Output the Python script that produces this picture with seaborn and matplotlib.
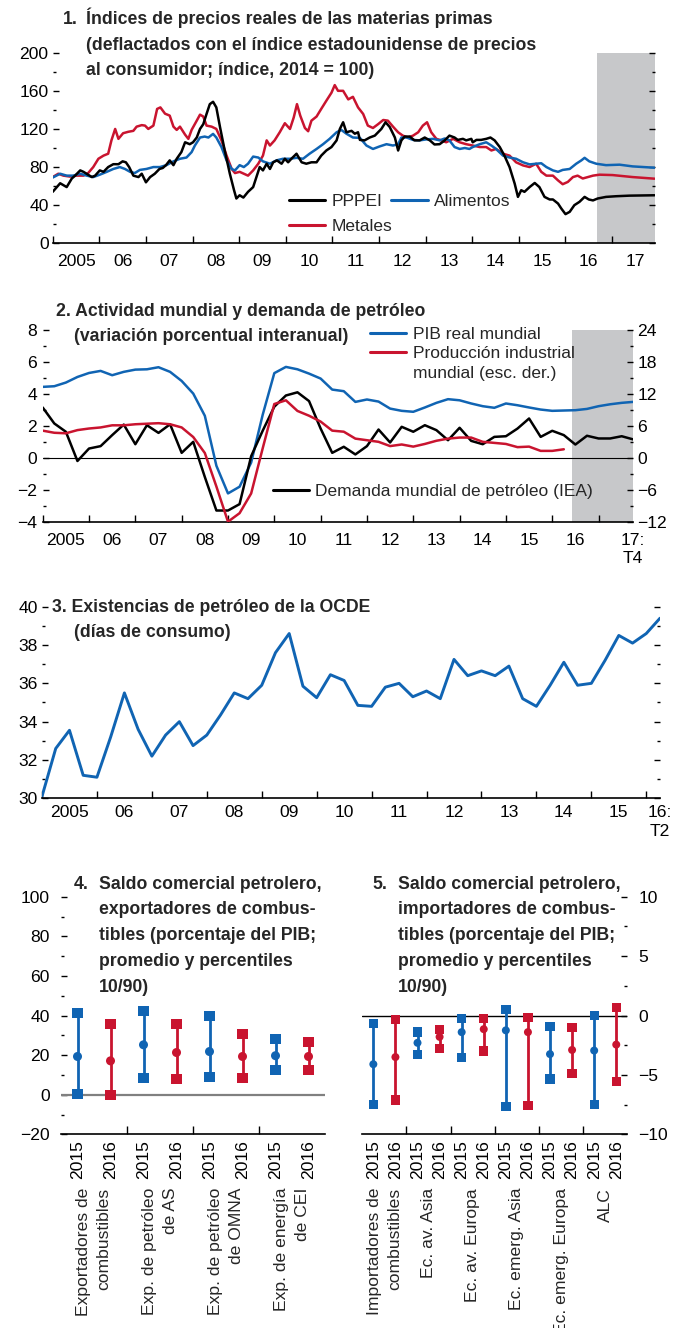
import numpy as np
import pandas as pd
import seaborn as sns
import matplotlib.pyplot as plt
from matplotlib.lines import Line2D
from matplotlib.ticker import MultipleLocator, NullFormatter

sns.set_theme(style="ticks")
plt.rcParams['font.family'] = ['Liberation Sans', 'DejaVu Sans']
plt.rcParams['axes.unicode_minus'] = True

BLUE = '#1064b3'
RED = '#c9142f'
GREY = '#c7c8ca'
FS = 12.7     # titles
LS = 12.5     # legends
TS = 12.6     # tick labels

# ---------------- panel 1: real commodity price indices (monthly-ish reads)
pppei_t = [2005.00, 2005.16, 2005.30, 2005.41, 2005.48, 2005.59, 2005.66, 2005.84, 2005.91, 2006.01,
           2006.09, 2006.19, 2006.30, 2006.41, 2006.50, 2006.57, 2006.64, 2006.73, 2006.84, 2006.91,
           2007.00, 2007.09, 2007.19, 2007.29, 2007.36, 2007.43, 2007.51, 2007.59, 2007.66, 2007.76,
           2007.84, 2007.94, 2008.01, 2008.09, 2008.16, 2008.23, 2008.30, 2008.37, 2008.44, 2008.51,
           2008.59, 2008.69, 2008.80, 2008.89, 2008.94, 2009.01, 2009.09, 2009.19, 2009.30, 2009.37,
           2009.44, 2009.51, 2009.59, 2009.66, 2009.73, 2009.81, 2009.91, 2009.98, 2010.05, 2010.12,
           2010.23, 2010.34, 2010.44, 2010.55, 2010.66, 2010.76, 2010.87, 2010.98, 2011.09, 2011.16,
           2011.23, 2011.30, 2011.41, 2011.48, 2011.55, 2011.59, 2011.69, 2011.80, 2011.91, 2012.05,
           2012.14, 2012.23, 2012.34, 2012.41, 2012.48, 2012.55, 2012.66, 2012.76, 2012.87, 2012.98,
           2013.09, 2013.19, 2013.30, 2013.41, 2013.51, 2013.62, 2013.69, 2013.80, 2013.87, 2013.98,
           2014.01, 2014.09, 2014.19, 2014.30, 2014.39, 2014.48, 2014.59, 2014.69, 2014.80, 2014.91,
           2014.98, 2015.05, 2015.12, 2015.23, 2015.34, 2015.44, 2015.55, 2015.66, 2015.73, 2015.84,
           2015.91, 2016.00, 2016.09, 2016.19, 2016.30, 2016.41, 2016.50, 2016.59, 2016.69, 2016.87,
           2017.09, 2017.37, 2017.91]
pppei_v = [54, 63, 59, 68, 71, 76.5, 75, 69.5, 71, 76.5,
           75, 80, 83, 83, 86, 85, 80, 71, 69.5, 73,
           64, 69.5, 73, 78, 79, 82, 87, 82, 88.7, 95.7,
           106, 104, 106, 111, 120, 125, 135.7, 146, 148.5, 142.6,
           121.7, 97.4, 73, 55.7, 47, 50.4, 48, 54, 59, 69.5,
           80, 76.5, 83.5, 78, 85, 87, 83.5, 88.7, 85, 88.7,
           94, 85, 83.5, 85, 85, 92, 97.4, 101, 108, 120,
           127, 116.5, 118, 115, 116.5, 108.5, 108, 111, 113, 120,
           127, 122, 111, 97.4, 108, 112, 112, 108, 108, 111,
           108, 103.7, 104, 108, 113, 111, 108.5, 109.6, 108, 109.6,
           106, 108.5, 108.5, 109.6, 111, 108, 101, 92, 80, 62.6,
           48.7, 55.7, 54, 59, 63.3, 59, 48.7, 46, 46, 41.7,
           36.5, 30.6, 33, 40, 43.5, 48.7, 46, 45, 47, 48.7,
           49.4, 50, 50.4]

alim_t = [2005.00, 2005.16, 2005.30, 2005.44, 2005.59, 2005.73, 2005.87, 2006.01, 2006.16, 2006.30,
          2006.44, 2006.55, 2006.66, 2006.76, 2006.87, 2007.01, 2007.16, 2007.30, 2007.44, 2007.59,
          2007.73, 2007.87, 2007.98, 2008.05, 2008.16, 2008.26, 2008.34, 2008.44, 2008.51, 2008.62,
          2008.73, 2008.84, 2008.91, 2009.01, 2009.10, 2009.19, 2009.30, 2009.41, 2009.51, 2009.66,
          2009.80, 2009.94, 2010.09, 2010.23, 2010.37, 2010.51, 2010.66, 2010.80, 2010.94, 2011.09,
          2011.19, 2011.30, 2011.44, 2011.59, 2011.73, 2011.87, 2012.01, 2012.16, 2012.30, 2012.41,
          2012.48, 2012.59, 2012.73, 2012.87, 2013.01, 2013.16, 2013.30, 2013.41, 2013.51, 2013.62,
          2013.73, 2013.84, 2013.94, 2014.01, 2014.16, 2014.30, 2014.41, 2014.51, 2014.66, 2014.80,
          2014.94, 2015.09, 2015.23, 2015.37, 2015.48, 2015.59, 2015.73, 2015.84, 2015.94, 2016.09,
          2016.23, 2016.34, 2016.41, 2016.51, 2016.66, 2016.87, 2017.16, 2017.44, 2017.91]
alim_v = [69, 73, 71, 71, 73, 71, 69.5, 72, 75, 78,
          80, 78, 75, 73.7, 77, 78, 80, 80, 82, 86,
          88.7, 90, 95.7, 102.6, 111, 112, 111, 114.8, 111, 101,
          87, 78, 76.5, 82, 80, 83.5, 91, 90, 86, 83.5,
          87, 88.7, 88.7, 89.7, 88.7, 94, 99, 104, 109.6, 116.5,
          119, 115, 111, 110.6, 102.6, 99, 101.6, 104, 102.6, 104,
          111, 111, 108.5, 108, 109, 109.6, 108, 110, 108, 101,
          99, 100, 99, 101, 104, 106, 102.6, 99, 92, 90,
          88.7, 85, 82.8, 83.5, 84, 80, 76.5, 75, 77, 78,
          83.5, 87, 89.7, 86, 83.5, 82, 82.5, 80.7, 79.3]

met_t = [2005.00, 2005.12, 2005.23, 2005.37, 2005.51, 2005.66, 2005.76, 2005.87, 2005.98, 2006.09,
         2006.19, 2006.26, 2006.34, 2006.41, 2006.51, 2006.62, 2006.73, 2006.80, 2006.91, 2006.98,
         2007.05, 2007.16, 2007.24, 2007.31, 2007.41, 2007.51, 2007.59, 2007.66, 2007.73, 2007.84,
         2007.91, 2007.98, 2008.09, 2008.16, 2008.23, 2008.30, 2008.41, 2008.51, 2008.62, 2008.73,
         2008.84, 2008.91, 2009.01, 2009.10, 2009.19, 2009.30, 2009.41, 2009.51, 2009.59, 2009.66,
         2009.76, 2009.87, 2009.98, 2010.09, 2010.17, 2010.24, 2010.31, 2010.41, 2010.48, 2010.55,
         2010.66, 2010.76, 2010.87, 2010.98, 2011.05, 2011.12, 2011.23, 2011.34, 2011.44, 2011.55,
         2011.66, 2011.76, 2011.87, 2011.98, 2012.09, 2012.19, 2012.30, 2012.41, 2012.51, 2012.62,
         2012.73, 2012.84, 2012.94, 2013.03, 2013.12, 2013.23, 2013.34, 2013.44, 2013.59, 2013.73,
         2013.87, 2014.01, 2014.16, 2014.30, 2014.41, 2014.51, 2014.66, 2014.80, 2014.94, 2015.09,
         2015.23, 2015.37, 2015.48, 2015.59, 2015.73, 2015.84, 2015.94, 2016.05, 2016.16, 2016.26,
         2016.37, 2016.48, 2016.59, 2016.73, 2017.01, 2017.44, 2017.91]
met_v = [69.5, 73, 71, 70, 71, 71, 73.7, 80, 88.7, 92,
         94, 108, 120, 109.6, 115.5, 117, 118, 122.4, 124, 123.5,
         120, 123.5, 141, 142.6, 136, 134, 122.4, 119, 122.4, 114,
         109.6, 119, 128.7, 135, 133, 123.5, 122.4, 120, 108, 92,
         78, 73.7, 75, 73, 71, 76.5, 83.5, 92, 108, 102.6,
         108, 116.5, 126, 120, 132, 146, 134, 121, 117.6, 128.7,
         133, 141, 149.6, 158, 166, 160, 160, 151, 153.7, 142.6,
         135.7, 123.5, 121, 125, 129.4, 128.7, 122.4, 116.5, 113, 111,
         113, 116.5, 123.5, 127, 116.5, 109.6, 108, 106, 109.6, 106,
         104, 102.6, 101, 101, 97.4, 99, 94, 92, 85, 81.7,
         80, 83.5, 75, 71, 71, 66, 62, 64.4, 69.5, 71,
         68, 69.5, 71, 72, 71.6, 69.5, 67.8]

# ---------------- panel 2: quarterly, 2005:T1 - 2017:T4
pib = [4.44, 4.48, 4.71, 5.06, 5.31, 5.44, 5.17, 5.38, 5.52, 5.54,
       5.67, 5.38, 4.81, 4.02, 2.63, -0.5, -2.23, -1.81, -0.3, 2.7,
       5.3, 5.69, 5.54, 5.27, 4.96, 4.27, 4.17, 3.5, 3.65, 3.52,
       3.08, 2.94, 2.88, 3.15, 3.44, 3.67, 3.6, 3.4, 3.23, 3.13,
       3.4, 3.29, 3.15, 3.02, 2.94, 2.96, 2.98, 3.06, 3.23, 3.35,
       3.44, 3.5]
demanda = [3.15, 2.15, 1.63, -0.2, 0.58, 0.73, 1.42, 2.08, 0.85, 2.04,
           1.56, 2.1, 0.31, 1.0, -1.2, -3.3, -3.3, -2.9, 0.1, 1.7,
           3.2, 3.9, 4.1, 3.55, 1.83, 0.31, 0.69, 0.21, 0.73, 1.77,
           0.96, 1.94, 1.63, 2.04, 1.73, 1.1, 1.88, 1.06, 0.85, 1.31,
           1.35, 1.83, 2.46, 1.31, 1.69, 1.42, 0.83, 1.38, 1.21, 1.21,
           1.35, 1.15]
# right-hand scale
prod_ind = [5.1, 4.7, 4.6, 5.2, 5.5, 5.7, 6.1, 6.1, 6.3, 6.4,
            6.5, 6.3, 5.7, 3.9, 0.9, -5.4, -12.0, -10.4, -6.7, 1.8,
            10.1, 10.8, 8.8, 7.9, 6.8, 5.1, 4.9, 3.6, 3.3, 3.0,
            2.2, 2.5, 2.1, 2.6, 3.2, 3.6, 3.8, 3.8, 3.0, 2.8,
            2.6, 2.0, 2.1, 1.3, 1.3, 1.6]

# ---------------- panel 3: quarterly, 2005:T1 - 2016:T2
existencias = [30.1, 32.6, 33.55, 31.2, 31.1, 33.2, 35.5, 33.6, 32.2, 33.3,
               34.0, 32.75, 33.3, 34.35, 35.5, 35.2, 35.9, 37.6, 38.6, 35.85,
               35.25, 36.45, 36.15, 34.85, 34.8, 35.8, 36.0, 35.3, 35.6, 35.2,
               37.25, 36.4, 36.65, 36.4, 36.9, 35.2, 34.8, 35.9, 37.1, 35.9,
               36.0, 37.2, 38.5, 38.1, 38.6, 39.4]

# ---------------- panel 4: fuel exporters (2015, 2016)
grupos4 = ['Exportadores de\ncombustibles', 'Exp. de petróleo\nde AS',
           'Exp. de petróleo\nde OMNA', 'Exp. de energía\nde CEI']
p4_alto_15 = [41.5, 42.5, 39.8, 28.2]
p4_media_15 = [19.3, 25.2, 21.8, 19.7]
p4_bajo_15 = [0.3, 8.6, 9.1, 12.4]
p4_alto_16 = [35.8, 35.8, 30.8, 26.7]
p4_media_16 = [17.1, 21.3, 19.3, 19.3]
p4_bajo_16 = [0.0, 7.7, 8.2, 12.4]

# ---------------- panel 5: fuel importers (2015, 2016)
grupos5 = ['Importadores de\ncombustibles', 'Ec. av. Asia', 'Ec. av. Europa',
           'Ec. emerg. Asia', 'Ec. emerg. Europa', 'ALC']
p5_alto_15 = [-0.65, -1.4, -0.25, 0.5, -0.9, 0.0]
p5_media_15 = [-4.1, -2.3, -1.4, -1.25, -3.25, -2.95]
p5_bajo_15 = [-7.5, -3.3, -3.55, -7.65, -5.35, -7.5]
p5_alto_16 = [-0.35, -1.2, -0.25, -0.15, -1.0, 0.7]
p5_media_16 = [-3.5, -1.8, -1.15, -1.4, -2.9, -2.45]
p5_bajo_16 = [-7.1, -2.8, -3.0, -7.6, -4.9, -5.55]

W, H = 677, 1328


def fx(px):
    return px / W


def fy(py):
    return 1 - py / H


def box(l, t, r, b):
    return [fx(l), fy(b), (r - l) / W, (b - t) / H]


def quarters(n):
    return [2005 + i / 4 for i in range(n)]


def base_style(ax):
    for s in ['left', 'right', 'top']:
        ax.spines[s].set_visible(False)
    ax.spines['bottom'].set_linewidth(1.2)
    ax.spines['bottom'].set_color('black')
    ax.tick_params(axis='both', which='both', direction='in', colors='black',
                   labelsize=TS, width=1)
    ax.tick_params(axis='y', which='major', length=4.5)
    ax.tick_params(axis='y', which='minor', length=2)
    ax.set_xlabel('')
    ax.set_ylabel('')
    ax.set_facecolor('none')


def year_axis(ax, last_tick, last_label, end_label=None, end_pos=None, pad=8):
    ax.set_xticks(list(range(2005, last_tick + 1)))
    ax.xaxis.set_major_formatter(NullFormatter())
    mids = [y + 0.5 for y in range(2005, last_label + 1)]
    labs = ['2005'] + ['%02d' % (y % 100) for y in range(2006, last_label + 1)]
    if end_label is not None:
        mids.append(end_pos)
        labs.append(end_label)
    ax.set_xticks(mids, minor=True)
    ax.set_xticklabels(labs, minor=True, linespacing=1.3)
    ax.tick_params(axis='x', which='major', length=5)
    ax.tick_params(axis='x', which='minor', length=0, pad=pad)


def title(x_num, x_body, base, lines, num):
    fig.text(fx(x_num), fy(base), num, fontsize=FS, fontweight='bold', va='baseline')
    for i, ln in enumerate(lines):
        fig.text(fx(x_body), fy(base + i * 25.7), ln, fontsize=FS,
                 fontweight='bold', va='baseline')


fig = plt.figure(figsize=(6.77, 13.28), dpi=100)

# ================= panel 1
ax1 = fig.add_axes(box(52.7, 52.7, 655, 243.3))
base_style(ax1)
ax1.axvspan(2016.68, 2017.92, color=GREY, lw=0, zorder=0)
sns.lineplot(x=met_t, y=met_v, ax=ax1, color=RED, lw=1.8, estimator=None, sort=False)
sns.lineplot(x=alim_t, y=alim_v, ax=ax1, color=BLUE, lw=1.8, estimator=None, sort=False)
sns.lineplot(x=pppei_t, y=pppei_v, ax=ax1, color='black', lw=1.8, estimator=None, sort=False)
ax1.set_xlim(2005, 2017.92)
ax1.set_ylim(0, 200)
ax1.yaxis.set_major_locator(MultipleLocator(40))
ax1.yaxis.set_minor_locator(MultipleLocator(20))
ax1.tick_params(axis='y', which='both', left=True, right=True, labelleft=True,
                labelright=False, pad=3)
year_axis(ax1, 2017, 2017, pad=8)
h_ppp = Line2D([], [], color='black', lw=2.2)
h_ali = Line2D([], [], color=BLUE, lw=2.2)
h_met = Line2D([], [], color=RED, lw=2.2)
lg_kw = dict(frameon=False, fontsize=LS, handlelength=2.1, handletextpad=0.35,
             borderpad=0, borderaxespad=0, bbox_transform=fig.transFigure, loc='center left')
lg = ax1.legend([h_ppp, h_ali], ['PPPEI', 'Alimentos'], ncol=2, columnspacing=0.5,
                bbox_to_anchor=(fx(289), fy(201.7)), **lg_kw)
ax1.add_artist(lg)
ax1.legend([h_met], ['Metales'], bbox_to_anchor=(fx(289), fy(226.7)), **lg_kw)
title(62.7, 86.5, 24, ['Índices de precios reales de las materias primas',
                       '(deflactados con el índice estadounidense de precios',
                       'al consumidor; índice, 2014 = 100)'], '1.')

# ================= panel 2
ax2 = fig.add_axes(box(42.7, 330, 633.3, 521.7))
base_style(ax2)
q52 = quarters(52)
ax2.axvspan(2016.43, 2017.75, color=GREY, lw=0, zorder=0)
ax2.axhline(0, color='black', lw=0.8, zorder=1)
sns.lineplot(x=q52, y=pib, ax=ax2, color=BLUE, lw=1.8, estimator=None, sort=False)
sns.lineplot(x=q52, y=demanda, ax=ax2, color='black', lw=1.8, estimator=None, sort=False)
ax2.set_xlim(2005, 2017.75)
ax2.set_ylim(-4, 8)
ax2.yaxis.set_major_locator(MultipleLocator(2))
ax2.yaxis.set_minor_locator(MultipleLocator(1))
ax2.tick_params(axis='y', which='both', left=True, right=False, pad=4)
year_axis(ax2, 2017, 2016, end_label='17:\nT4', end_pos=2017.75, pad=8)

ax2r = ax2.twinx()
base_style(ax2r)
ax2r.spines['bottom'].set_visible(False)
sns.lineplot(x=quarters(len(prod_ind)), y=prod_ind, ax=ax2r, color=RED, lw=1.8,
             estimator=None, sort=False)
ax2r.set_xlim(2005, 2017.75)
ax2r.set_ylim(-12, 24)
ax2r.yaxis.set_major_locator(MultipleLocator(6))
ax2r.yaxis.set_minor_locator(MultipleLocator(3))
ax2r.tick_params(axis='y', which='both', left=False, right=True, labelleft=False,
                 labelright=True, pad=3)
ax2r.set_ylabel('')
h_pib = Line2D([], [], color=BLUE, lw=2.2)
h_prod = Line2D([], [], color=RED, lw=2.2)
h_none = Line2D([], [], color='none')
lg2 = ax2r.legend([h_pib, h_prod, h_none],
                  ['PIB real mundial', 'Producción industrial', 'mundial (esc. der.)'],
                  labelspacing=0.25, bbox_to_anchor=(fx(370), fy(353.5)), **lg_kw)
ax2r.add_artist(lg2)
h_dem = Line2D([], [], color='black', lw=2.2)
ax2r.legend([h_dem], ['Demanda mundial de petróleo (IEA)'],
            bbox_to_anchor=(fx(272.6), fy(491.7)), **lg_kw)
fig.text(fx(56), fy(316), '2. Actividad mundial y demanda de petróleo',
         fontsize=FS, fontweight='bold', va='baseline')
fig.text(fx(73.6), fy(340.7), '(variación porcentual interanual)',
         fontsize=FS, fontweight='bold', va='baseline')

# ================= panel 3
ax3 = fig.add_axes(box(42, 606.7, 660, 798.3))
base_style(ax3)
sns.lineplot(x=quarters(len(existencias)), y=existencias, ax=ax3, color=BLUE, lw=2.1,
             estimator=None, sort=False)
ax3.set_xlim(2005, 2016.25)
ax3.set_ylim(30, 40)
ax3.yaxis.set_major_locator(MultipleLocator(2))
ax3.yaxis.set_minor_locator(MultipleLocator(1))
ax3.tick_params(axis='y', which='both', left=True, right=True, labelleft=True,
                labelright=False, pad=3)
year_axis(ax3, 2016, 2015, end_label='16:\nT2', end_pos=2016.25, pad=5)
fig.text(fx(52), fy(611.7), '3. Existencias de petróleo de la OCDE',
         fontsize=FS, fontweight='bold', va='baseline')
fig.text(fx(74.4), fy(636.7), '(días de consumo)',
         fontsize=FS, fontweight='bold', va='baseline')


# ================= panels 4 and 5 (dumbbells)
def dumbbell(ax, grupos, a15, m15, b15, a16, m16, b16, sq, circ, zero_color, zero_lw):
    n = len(grupos)
    df = pd.DataFrame({
        'pos': [2 * i for i in range(n)] + [2 * i + 1 for i in range(n)],
        'anio': ['2015'] * n + ['2016'] * n,
        'alto': a15 + a16, 'media': m15 + m16, 'bajo': b15 + b16,
    })
    pal = {'2015': BLUE, '2016': RED}
    ax.axhline(0, color=zero_color, lw=zero_lw, zorder=1)
    for anio, sub in df.groupby('anio'):
        ax.vlines(sub['pos'], sub['bajo'], sub['alto'], color=pal[anio], lw=2.0, zorder=2)
    for col, mk, s in [('alto', 's', sq), ('bajo', 's', sq), ('media', 'o', circ)]:
        sns.scatterplot(data=df, x='pos', y=col, hue='anio', palette=pal, marker=mk, s=s,
                        edgecolor='none', legend=False, ax=ax, zorder=3)
    ax.set_xlim(-0.5, 2 * n - 0.5)
    ax.set_xticks([2 * i + 1.5 for i in range(n - 1)])
    ax.xaxis.set_major_formatter(NullFormatter())
    ax.set_xticks(list(range(2 * n)), minor=True)
    ax.set_xticklabels(['2015', '2016'] * n, minor=True, rotation=90)
    ax.tick_params(axis='x', which='major', length=6)
    ax.tick_params(axis='x', which='minor', length=0, pad=4)
    ax.set_xlabel('')
    ax.set_ylabel('')
    trans = ax.get_xaxis_transform()
    for i, g in enumerate(grupos):
        ax.text(2 * i + 0.5, -0.226, g, transform=trans, rotation=90, ha='center',
                va='top', multialignment='right', fontsize=TS, linespacing=1.45)


ax4 = fig.add_axes(box(61, 896.7, 325, 1134.3))
base_style(ax4)
dumbbell(ax4, grupos4, p4_alto_15, p4_media_15, p4_bajo_15,
         p4_alto_16, p4_media_16, p4_bajo_16, 52, 42, '#808080', 1.6)
ax4.set_ylim(-20, 100)
ax4.yaxis.set_major_locator(MultipleLocator(20))
ax4.yaxis.set_minor_locator(MultipleLocator(10))
ax4.tick_params(axis='y', which='both', left=True, right=False, pad=8)
title(74, 99.3, 888.7, ['Saldo comercial petrolero,', 'exportadores de combus-',
                        'tibles (porcentaje del PIB;', 'promedio y percentiles', '10/90)'], '4.')

ax5 = fig.add_axes(box(362.3, 896.7, 627.3, 1134.3))
base_style(ax5)
dumbbell(ax5, grupos5, p5_alto_15, p5_media_15, p5_bajo_15,
         p5_alto_16, p5_media_16, p5_bajo_16, 45, 33, 'black', 1.0)
ax5.set_ylim(-10, 10)
ax5.yaxis.set_major_locator(MultipleLocator(5))
ax5.yaxis.set_minor_locator(MultipleLocator(2.5))
ax5.tick_params(axis='y', which='both', left=False, right=True, labelleft=False,
                labelright=True, pad=8)
title(372.3, 398.3, 888.7, ['Saldo comercial petrolero,', 'importadores de combus-',
                            'tibles (porcentaje del PIB;', 'promedio y percentiles', '10/90)'], '5.')

fig.savefig('out.png', dpi=100)
